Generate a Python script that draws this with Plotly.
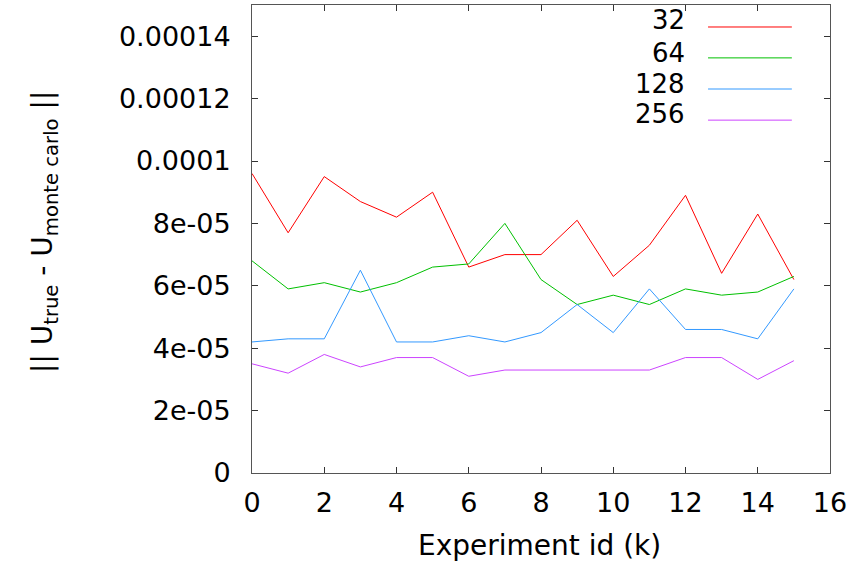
import plotly.graph_objects as go

experiment_id = list(range(16))
series_names = ["32", "64", "128", "256"]
err_32 = [9.6e-5, 7.7e-5, 9.5e-5, 8.7e-5, 8.2e-5, 9.0e-5, 6.6e-5, 7.0e-5,
          7.0e-5, 8.1e-5, 6.3e-5, 7.3e-5, 8.9e-5, 6.4e-5, 8.3e-5, 6.2e-5]
err_64 = [6.8e-5, 5.9e-5, 6.1e-5, 5.8e-5, 6.1e-5, 6.6e-5, 6.7e-5, 8.0e-5,
          6.2e-5, 5.4e-5, 5.7e-5, 5.4e-5, 5.9e-5, 5.7e-5, 5.8e-5, 6.3e-5]
err_128 = [4.2e-5, 4.3e-5, 4.3e-5, 6.5e-5, 4.2e-5, 4.2e-5, 4.4e-5, 4.2e-5,
           4.5e-5, 5.4e-5, 4.5e-5, 5.9e-5, 4.6e-5, 4.6e-5, 4.3e-5, 5.9e-5]
err_256 = [3.5e-5, 3.2e-5, 3.8e-5, 3.4e-5, 3.7e-5, 3.7e-5, 3.1e-5, 3.3e-5,
           3.3e-5, 3.3e-5, 3.3e-5, 3.3e-5, 3.7e-5, 3.7e-5, 3.0e-5, 3.6e-5]
y_tick_vals = [0, 2e-5, 4e-5, 6e-5, 8e-5, 1e-4, 1.2e-4, 1.4e-4]
y_tick_text = ["0", "2e-05", "4e-05", "6e-05", "8e-05", "0.0001", "0.00012", "0.00014"]
x_tick_vals = [0, 2, 4, 6, 8, 10, 12, 14, 16]
x_title = "Experiment id (k)"
y_title = "|| U<sub>true</sub> - U<sub>monte carlo</sub> ||"

colors = ["#ff0000", "#00c000", "#3399ff", "#cc44ff"]
all_series = [err_32, err_64, err_128, err_256]

fig = go.Figure()
for name, vals, col in zip(series_names, all_series, colors):
    fig.add_trace(go.Scatter(x=experiment_id, y=vals, mode="lines", name=name,
                             line=dict(color=col, width=1), showlegend=False))

FONT = "DejaVu Sans"
# custom gnuplot-style legend (text left, sample right)
text_y = [0.968, 0.898, 0.832, 0.767]
line_y = [0.953, 0.887, 0.8205, 0.754]
for name, col, ty, ly in zip(series_names, colors, text_y, line_y):
    fig.add_annotation(x=0.7526, y=ty, xref="paper", yref="paper", text=name,
                       showarrow=False, xanchor="right", yanchor="middle",
                       font=dict(family=FONT, size=26, color="black"))
    fig.add_shape(type="line", xref="paper", yref="paper", x0=0.789, x1=0.934,
                  y0=ly, y1=ly, line=dict(color=col, width=1))

# axis titles
fig.add_annotation(x=0.498, y=-0.154, xref="paper", yref="paper", text=x_title,
                   showarrow=False, xanchor="center", yanchor="middle",
                   font=dict(family=FONT, size=28, color="black"))
fig.add_annotation(x=-0.358, y=0.515, xref="paper", yref="paper", text=y_title,
                   showarrow=False, xanchor="center", yanchor="middle", textangle=-90,
                   font=dict(family=FONT, size=28, color="black"))

axis_common = dict(ticks="inside", ticklen=6, tickcolor="#333", showline=True,
                   linecolor="#555", linewidth=1, mirror="allticks", showgrid=False,
                   zeroline=False, automargin=False,
                   tickfont=dict(family=FONT, size=27, color="black"))

fig.update_layout(
    width=858, height=562,
    margin=dict(l=252, r=28, t=5, b=89),
    paper_bgcolor="white", plot_bgcolor="white",
    font=dict(family=FONT, size=27, color="black"),
    xaxis=dict(range=[0, 16], tickvals=x_tick_vals, ticklabelstandoff=6, **axis_common),
    yaxis=dict(range=[0, 1.5e-4], tickvals=y_tick_vals, ticktext=y_tick_text,
               ticklabelstandoff=15, **axis_common),
)

fig.write_html("out.html", config={"displayModeBar": False},
               post_script="document.body.style.margin='0';")
